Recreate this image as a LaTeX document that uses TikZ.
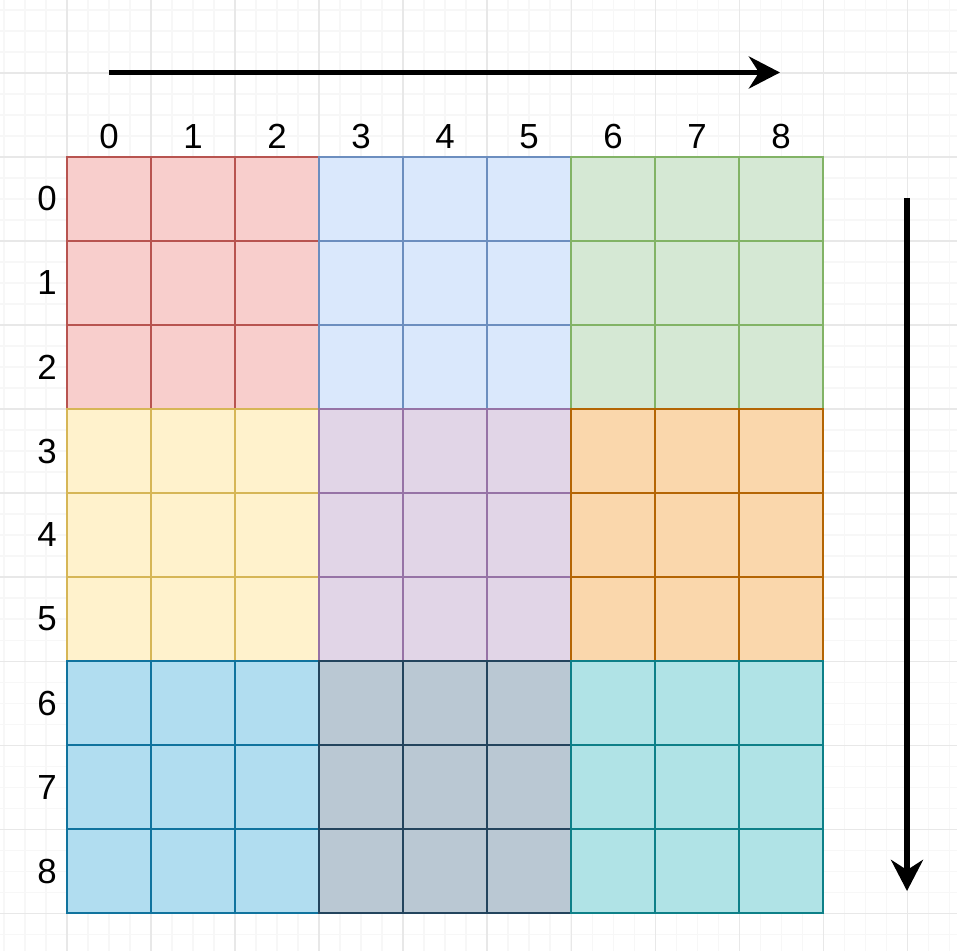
\documentclass[tikz,border=0pt]{standalone}
\usepackage{fontspec}
\setmainfont{Liberation Sans}
\definecolor{redFill}{HTML}{F8CECC}
\definecolor{redLine}{HTML}{B85450}
\definecolor{blueFill}{HTML}{DAE8FC}
\definecolor{blueLine}{HTML}{6C8EBF}
\definecolor{greenFill}{HTML}{D5E8D4}
\definecolor{greenLine}{HTML}{82B366}
\definecolor{yellowFill}{HTML}{FFF2CC}
\definecolor{yellowLine}{HTML}{D6B656}
\definecolor{purpleFill}{HTML}{E1D5E7}
\definecolor{purpleLine}{HTML}{9673A6}
\definecolor{orangeFill}{HTML}{FAD7AC}
\definecolor{orangeLine}{HTML}{B46504}
\definecolor{skyFill}{HTML}{B1DDF0}
\definecolor{skyLine}{HTML}{10739E}
\definecolor{slateFill}{HTML}{BAC8D3}
\definecolor{slateLine}{HTML}{23445D}
\definecolor{tealFill}{HTML}{B0E3E6}
\definecolor{tealLine}{HTML}{0E8088}
\definecolor{gridMinor}{HTML}{F7F7F7}
\definecolor{gridMajor}{HTML}{E8E8E8}
\usetikzlibrary{arrows.meta, positioning}

\begin{document}
\begin{tikzpicture}[
    cell/.style={
      minimum size=1cm,
      inner sep=0pt,
      outer sep=0pt,
      line width=0.7pt,
    },
    idx/.style={font=\fontsize{11.8}{14}\selectfont, inner sep=0pt},
    arr/.style={-{Stealth[length=0.37cm, width=0.38cm, inset=0.12cm]}, black, line width=2pt},
    minorGrid/.style={gridMinor, line width=0.35pt},
    majorGrid/.style={gridMajor, line width=0.35pt},
  ]
    % page and background grid
    \useasboundingbox[fill=white] (-0.7976,1.869) rectangle (10.595,-9.452);
    \draw[minorGrid, step=0.25] (-0.7976,1.869) grid (10.595,-9.452);
    \draw[majorGrid, step=1] (-0.7976,1.869) grid (10.595,-9.452);

    % 3x3 blocks of cells
    \foreach \br/\bc/\fillc/\linec in {
        0/0/redFill/redLine, 0/1/blueFill/blueLine, 0/2/greenFill/greenLine,
        1/0/yellowFill/yellowLine, 1/1/purpleFill/purpleLine, 1/2/orangeFill/orangeLine,
        2/0/skyFill/skyLine, 2/1/slateFill/slateLine, 2/2/tealFill/tealLine} {
      \foreach \i in {0,1,2} {
        \foreach \j in {0,1,2} {
          \pgfmathtruncatemacro\r{3*\br+\i}
          \pgfmathtruncatemacro\c{3*\bc+\j}
          \node[cell, fill=\fillc, draw=\linec] (c\r-\c) at (\c+0.5,-\r-0.5) {};
        }
      }
    }

    % indices
    \foreach \k in {0,...,8} {
      \node[idx] (col\k) at (\k+0.5,0.244) {\k};
      \node[idx] (row\k) at (-0.238,-\k-0.5) {\k};
    }

    % direction arrows
    \coordinate (hStart) at (0.5,1.006);
    \coordinate (hEnd) at (8.488,1.006);
    \coordinate (vStart) at (10,-0.488);
    \coordinate (vEnd) at (10,-8.738);
    \draw[arr] (hStart) -- (hEnd);
    \draw[arr] (vStart) -- (vEnd);
  \end{tikzpicture}
\end{document}
